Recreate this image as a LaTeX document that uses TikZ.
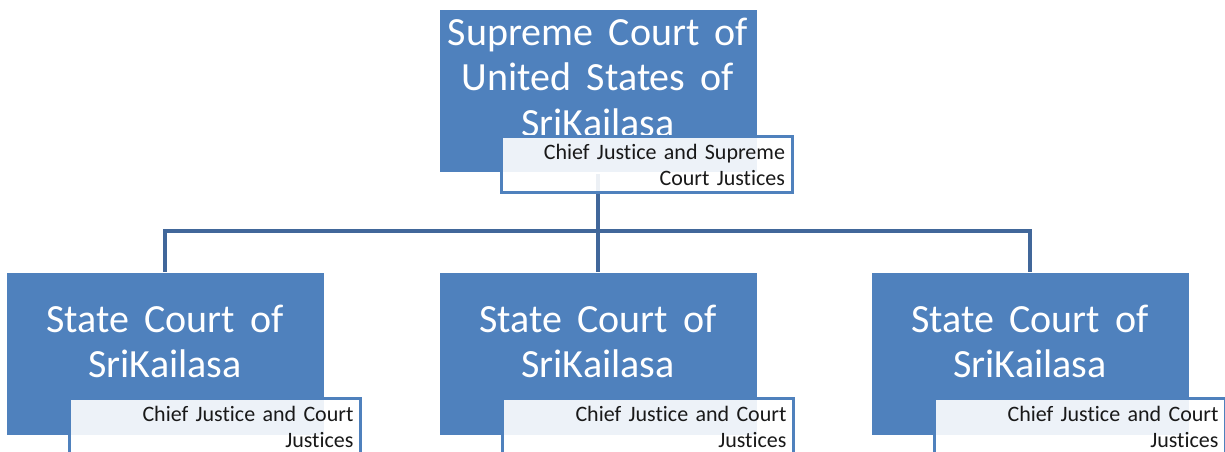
\documentclass[tikz,border=0pt]{standalone}
\usepackage{fontspec}
\setmainfont{Carlito}[RawFeature=-liga]
\newfontfamily\titlefont{Carlito}[WordSpace=1.7]
\newfontfamily\notefont{Carlito}[WordSpace=1.1, RawFeature=-liga]
\usepackage{tikz}
\definecolor{courtblue}{HTML}{4F81BD}
\definecolor{linkblue}{HTML}{41679A}

\begin{document}
\begin{tikzpicture}[x=1pt, y=1pt,
    court/.style={rectangle, fill=courtblue, draw=white, line width=0.6pt, minimum width=318pt, minimum height=163pt},
    courttext/.style={text=white, align=center, font=\titlefont\fontsize{40}{45.5}\selectfont},
    judges/.style={rectangle, draw=courtblue, line width=3pt, fill=white, fill opacity=0.9, text opacity=1, text=black!90, align=right, text width=277pt, minimum width=291pt, minimum height=56pt, font=\notefont\fontsize{22}{25.5}\selectfont},
    link/.style={draw=linkblue, line width=4pt}
]
    \useasboundingbox (0,0) rectangle (1225,452);

    % connectors
    \coordinate (hub) at (598,221);
    \draw[link] (598,278) -- (hub);
    \draw[link] (hub) -| (165,180);
    \draw[link] (hub) -- (598,180);
    \draw[link] (hub) -| (1030,180);

    % supreme court
    \node[court] (supreme) at (598,361) {};
    \node[courttext] (supremetext) at ([yshift=14pt]supreme.center) {Supreme Court of\\United States of\\SriKailasa};
    \node[judges] (supremejudges) at (646.5,287) {Chief Justice and Supreme\\Court Justices};

    % state courts
    \foreach \x [count=\i] in {165,598,1030} {
        \node[court] (state\i) at (\x,98.5) {};
        \node[courttext] (state\i text) at ([yshift=12pt]state\i.center) {State Court of\\SriKailasa};
        \node[judges] (state\i judges) at (\x+50,25) {Chief Justice and Court\\Justices};
    }
\end{tikzpicture}
\end{document}
